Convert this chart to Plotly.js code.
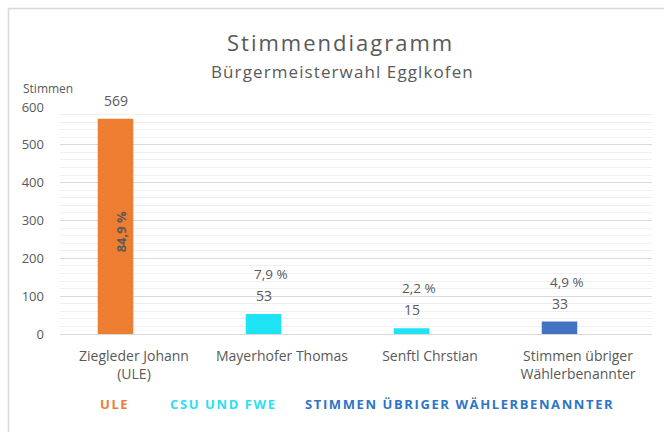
<!DOCTYPE html>
<html>
<head>
<meta charset="utf-8">
<script src="https://cdn.plot.ly/plotly-3.0.1.min.js"></script>
<style>
html,body{margin:0;padding:0;background:#fff;}
#chart{width:664px;height:432px;}
</style>
</head>
<body>
<div id="chart"></div>
<script>
// ---- data ----
const categories = ['Ziegleder Johann<br>(ULE)', 'Mayerhofer Thomas', 'Senftl Chrstian', 'Stimmen übriger<br>Wählerbenannter'];
const votes = [569, 53, 15, 33];
const percentLabels = ['84,9 %', '7,9 %', '2,2 %', '4,9 %'];
const seriesNames = ['ULE', 'CSU und FWE', 'Stimmen übriger Wählerbenannter'];
const seriesOfCategory = [0, 1, 1, 2];
const seriesColors = ['#ED7D31', '#1EE3F5', '#4472C4'];
const legendTextColors = ['#ED7D31', '#2BDFF3', '#2E75C6'];
const titleText = 'Stimmendiagramm';
const subtitleText = 'Bürgermeisterwahl Egglkofen';
const yAxisTitle = 'Stimmen';
const yTicks = [0, 100, 200, 300, 400, 500, 600];

// ---- layout helpers ----
const W = 664, H = 432;
const M = {l: 60, r: 12, t: 107, b: 98};
const PW = W - M.l - M.r, PH = H - M.t - M.b;
const px = x => (x - M.l) / PW;
const py = y => (H - M.b - y) / PH;
const FONT = '"Open Sans", Lato, sans-serif';
const GREY = '#595959';
const spaced = (t, ls) => '<span style="letter-spacing:' + ls + 'px">' + t + '</span>';

const traces = seriesNames.map((name, s) => {
  const xs = [], ys = [];
  categories.forEach((c, i) => { if (seriesOfCategory[i] === s) { xs.push(c); ys.push(votes[i]); } });
  return {
    type: 'bar', name: name, x: xs, y: ys,
    width: 0.24, offset: -0.245,
    marker: {color: seriesColors[s], line: {width: 0}},
    hoverinfo: 'x+y', showlegend: false
  };
});

const annotations = [];
// count labels and percent labels
categories.forEach((c, i) => {
  annotations.push({
    x: c, y: votes[i], xref: 'x', yref: 'y', text: String(votes[i]),
    showarrow: false, xanchor: 'center', yanchor: 'bottom',
    xshift: -18, yshift: 7,
    font: {family: FONT, size: 14, color: GREY}
  });
  if (votes[i] > 300) {
    annotations.push({
      x: c, y: votes[i] / 2, xref: 'x', yref: 'y', text: '<b>' + percentLabels[i] + '</b>',
      showarrow: false, textangle: -90, xanchor: 'center', yanchor: 'middle',
      xshift: -13, yshift: -6,
      font: {family: FONT, size: 13, color: GREY}
    });
  } else {
    annotations.push({
      x: c, y: votes[i], xref: 'x', yref: 'y', text: percentLabels[i],
      showarrow: false, xanchor: 'center', yanchor: 'bottom',
      xshift: -11, yshift: 29,
      font: {family: FONT, size: 13.5, color: GREY}
    });
  }
});
// titles
annotations.push({xref: 'paper', yref: 'paper', x: px(340), y: py(42), text: spaced(titleText, 2), showarrow: false,
  xanchor: 'center', yanchor: 'middle', font: {family: FONT, size: 22, color: GREY}});
annotations.push({xref: 'paper', yref: 'paper', x: px(342), y: py(72), text: spaced(subtitleText, 1.1), showarrow: false,
  xanchor: 'center', yanchor: 'middle', font: {family: FONT, size: 17, color: GREY}});
annotations.push({xref: 'paper', yref: 'paper', x: px(21), y: py(88), text: yAxisTitle, showarrow: false,
  xanchor: 'left', yanchor: 'middle', font: {family: FONT, size: 12, color: GREY}});
// legend (text only)
const legendX = [98, 168, 303];
seriesNames.forEach((n, s) => {
  annotations.push({xref: 'paper', yref: 'paper', x: px(legendX[s]), y: py(404),
    text: '<b>' + spaced(n.toUpperCase(), 1.6) + '</b>',
    showarrow: false, xanchor: 'left', yanchor: 'middle',
    font: {family: FONT, size: 13, color: legendTextColors[s]}});
});

const layout = {
  width: W, height: H,
  margin: M,
  paper_bgcolor: '#ffffff', plot_bgcolor: '#ffffff',
  showlegend: false,
  xaxis: {
    type: 'category', categoryorder: 'array', categoryarray: categories,
    showline: true, linecolor: '#d9d9d9', linewidth: 1,
    showgrid: false, ticks: '', ticklabelstandoff: 9,
    tickfont: {family: FONT, size: 14, color: GREY}, fixedrange: true
  },
  yaxis: {
    range: [0, 600], tickvals: yTicks, ticktext: yTicks.map(String),
    showline: false, zeroline: false,
    showgrid: true, gridcolor: '#d9d9d9', gridwidth: 1,
    minor: {dtick: 20, showgrid: true, gridcolor: '#efefef', gridwidth: 1},
    ticks: '', ticklabelstandoff: 15,
    tickfont: {family: FONT, size: 13, color: GREY}, fixedrange: true
  },
  annotations: annotations,
  shapes: [{
    type: 'rect', xref: 'paper', yref: 'paper',
    x0: px(8.5), x1: px(700), y0: py(470), y1: py(8.5),
    line: {color: '#d9d9d9', width: 1.5}, fillcolor: 'rgba(0,0,0,0)', layer: 'below'
  }]
};

Plotly.newPlot('chart', traces, layout, {displayModeBar: false, staticPlot: true});
</script>
</body>
</html>
